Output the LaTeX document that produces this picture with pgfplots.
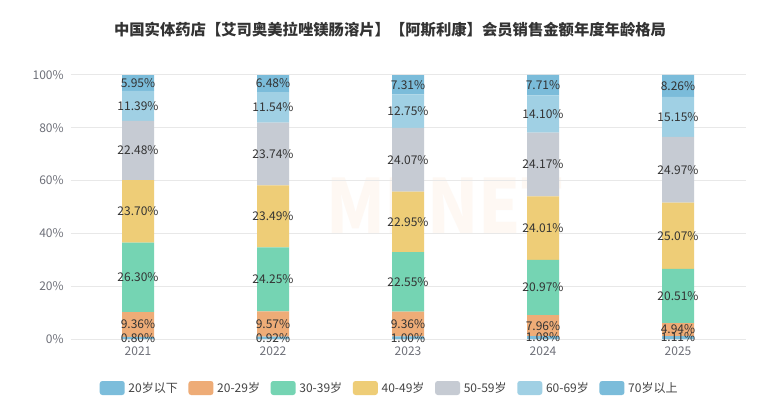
\documentclass[border=0pt]{standalone}
\usepackage{fontspec}
\setmainfont{Noto Sans CJK SC}
\usepackage{pgfplots}
\usepackage{pgfplotstable}
\pgfplotsset{compat=1.18}
\definecolor{ca}{HTML}{7CBDDB}
\definecolor{cb}{HTML}{EEAC77}
\definecolor{cc}{HTML}{75D4B3}
\definecolor{cd}{HTML}{EECD77}
\definecolor{ce}{HTML}{C6CBD3}
\definecolor{cf}{HTML}{A0D0E4}
\definecolor{cg}{HTML}{7BBCDA}
\definecolor{gridc}{HTML}{E8E8E8}
\definecolor{tickc}{HTML}{6E7079}
\definecolor{labc}{HTML}{333333}
\definecolor{legc}{HTML}{444444}
\definecolor{titc}{HTML}{333333}
\definecolor{wm}{HTML}{FEF8F3}
\pgfplotstableread{
x a b c d e f g
0 0.80 9.36 26.30 23.70 22.48 11.39 5.95
1 0.92 9.57 24.25 23.49 23.74 11.54 6.48
2 1.00 9.36 22.55 22.95 24.07 12.75 7.31
3 1.08 7.96 20.97 24.01 24.17 14.10 7.71
4 1.11 4.94 20.51 25.07 24.97 15.15 8.26
}\data
\pgfplotstablecreatecol[create col/expr={\thisrow{a}/2}]{ma}\data
\pgfplotstablecreatecol[create col/expr={\thisrow{a}+\thisrow{b}/2}]{mb}\data
\pgfplotstablecreatecol[create col/expr={\thisrow{a}+\thisrow{b}+\thisrow{c}/2}]{mc}\data
\pgfplotstablecreatecol[create col/expr={\thisrow{a}+\thisrow{b}+\thisrow{c}+\thisrow{d}/2}]{md}\data
\pgfplotstablecreatecol[create col/expr={\thisrow{a}+\thisrow{b}+\thisrow{c}+\thisrow{d}+\thisrow{e}/2}]{me}\data
\pgfplotstablecreatecol[create col/expr={\thisrow{a}+\thisrow{b}+\thisrow{c}+\thisrow{d}+\thisrow{e}+\thisrow{f}/2}]{mf}\data
\pgfplotstablecreatecol[create col/expr={\thisrow{a}+\thisrow{b}+\thisrow{c}+\thisrow{d}+\thisrow{e}+\thisrow{f}+\thisrow{g}/2}]{mg}\data
\pgfplotsset{common/.style={
  at={(52.875pt,45.75pt)}, anchor=south west,
  scale only axis, width=506.25pt, height=198pt,
  xmin=-0.5, xmax=4.5, ymin=0, ymax=100}}
\begin{document}
\begin{tikzpicture}
\path[use as bounding box, fill=white] (0,0) rectangle (585pt,300pt);
\node[font=\bfseries\fontsize{11.5}{13}\selectfont, text=titc] at (292.5pt,277.5pt) {中国实体药店【艾司奥美拉唑镁肠溶片】【阿斯利康】会员销售金额年度年龄格局};
\node[font=\bfseries\fontsize{56}{56}\selectfont, text=wm, xscale=0.9] at (333.75pt,146pt) {MENET};
\begin{axis}[
  common,
  ybar stacked, bar width=24pt,
  xtick={0,1,2,3,4}, xticklabels={2021,2022,2023,2024,2025},
  ytick={0,20,...,100},
  yticklabel={\pgfmathprintnumber{\tick}\%},
  /pgf/number format/assume math mode=true,
  axis line style={draw=none},
  major tick length=0pt,
  ymajorgrids, grid style={draw=gridc, line width=0.75pt},
  tick label style={font=\fontsize{9}{10}\selectfont, text=tickc},
  yticklabel style={inner sep=0pt, xshift=-4.9pt, anchor=east},
  xticklabel style={inner sep=0pt, yshift=-5.5pt, anchor=north},
  legend columns=7,
  legend cell align=left,
  legend style={draw=none, fill=none, at={(0.4733,-0.1856)}, anchor=center,
    font=\fontsize{9}{10}\selectfont, text=legc,
    /tikz/every even column/.append style={column sep=6pt},
    /tikz/every odd column/.append style={column sep=0.8pt}},
  legend image code/.code={\fill[#1, draw=none, rounded corners=2pt] (0pt,-5.25pt) rectangle (18.75pt,5.25pt);},
]
\addlegendimage{fill=ca, draw=none}
\addlegendimage{fill=cb, draw=none}
\addlegendimage{fill=cc, draw=none}
\addlegendimage{fill=cd, draw=none}
\addlegendimage{fill=ce, draw=none}
\addlegendimage{fill=cf, draw=none}
\addlegendimage{fill=cg, draw=none}
\addplot[fill=ca, draw=none] table[x=x, y=a]{\data};
\addplot[fill=cb, draw=none] table[x=x, y=b]{\data};
\addplot[fill=cc, draw=none] table[x=x, y=c]{\data};
\addplot[fill=cd, draw=none] table[x=x, y=d]{\data};
\addplot[fill=ce, draw=none] table[x=x, y=e]{\data};
\addplot[fill=cf, draw=none] table[x=x, y=f]{\data};
\addplot[fill=cg, draw=none] table[x=x, y=g]{\data};
\legend{20岁以下,20-29岁,30-39岁,40-49岁,50-59岁,60-69岁,70岁以上}
\end{axis}
\begin{axis}[
  common, hide axis,
  point meta=explicit,
  /pgf/number format/assume math mode=true,
  nodes near coords={\pgfmathprintnumber[fixed,fixed zerofill,precision=2,assume math mode=true]{\pgfplotspointmeta}\%},
  every node near coord/.append style={anchor=center, inner sep=0pt, font=\fontsize{9}{10}\selectfont, text=labc},
]
\addplot[draw=none, mark=none] table[x=x, y=ma, meta=a]{\data};
\addplot[draw=none, mark=none] table[x=x, y=mb, meta=b]{\data};
\addplot[draw=none, mark=none] table[x=x, y=mc, meta=c]{\data};
\addplot[draw=none, mark=none] table[x=x, y=md, meta=d]{\data};
\addplot[draw=none, mark=none] table[x=x, y=me, meta=e]{\data};
\addplot[draw=none, mark=none] table[x=x, y=mf, meta=f]{\data};
\addplot[draw=none, mark=none] table[x=x, y=mg, meta=g]{\data};
\end{axis}
\end{tikzpicture}
\end{document}
